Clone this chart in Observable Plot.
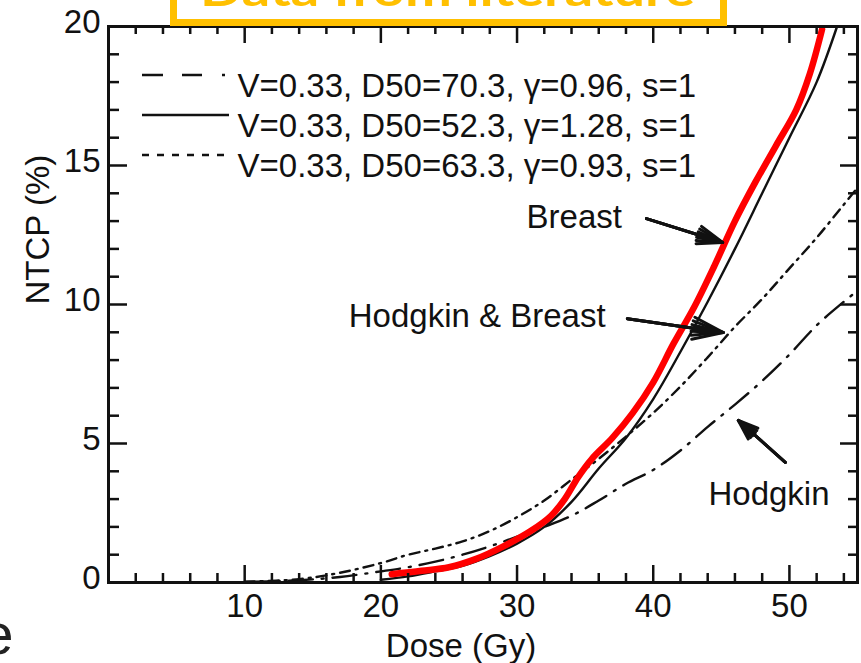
<!DOCTYPE html>
<html><head><meta charset="utf-8">
<script src="https://cdn.jsdelivr.net/npm/d3@7"></script>
<script src="https://cdn.jsdelivr.net/npm/@observablehq/plot@0.6"></script>
<style>
body{margin:0;background:#fff;}
#chart{position:relative;width:861px;height:663px;overflow:hidden;background:#fff;}
</style></head><body><div id="chart"></div>
<script>
// ---- axis ticks ----
const xTickLabels = [10, 20, 30, 40, 50];
const yTickLabels = [0, 5, 10, 15, 20];
const xMajorTicks = [10, 20, 30, 40, 50];
const xMinorTicks = [2, 4, 6, 8, 12, 14, 16, 18, 22, 24, 26, 28, 32, 34, 36, 38, 42, 44, 46, 48, 52, 54];
const yMajorTicks = [5, 10, 15];
const yMinorTicks = [1, 2, 3, 4, 6, 7, 8, 9, 11, 12, 13, 14, 16, 17, 18, 19];

// ---- curves ----
const fitDose  = [20.8, 23, 25, 27, 29, 31, 32.5, 33.5, 34.5, 35.5, 37, 38.5, 40, 41.5, 43, 44.5, 46, 47.5, 49, 50.5, 51.5, 52.4];
const fitNTCP  = [0.3, 0.42, 0.55, 0.85, 1.3, 1.85, 2.4, 3.0, 3.8, 4.45, 5.2, 6.1, 7.2, 8.6, 9.9, 11.4, 13.0, 14.4, 15.7, 17.0, 18.3, 19.9];

const breastDose = [20, 22, 24, 26, 28, 30, 32, 34, 36, 38, 40, 42, 44, 46, 48, 50, 52, 53.5];
const breastNTCP = [0.1, 0.22, 0.4, 0.6, 0.95, 1.4, 2.0, 2.9, 4.1, 5.2, 6.6, 8.3, 10.1, 12.0, 14.0, 16.0, 18.0, 20];

const hbDose = [10, 14, 17, 20, 22, 24, 26, 28, 30, 32, 34, 36, 38, 40, 42, 44, 46, 48, 50, 52, 54, 55];
const hbNTCP = [0.03, 0.12, 0.35, 0.7, 1.0, 1.22, 1.48, 1.85, 2.35, 2.95, 3.7, 4.45, 5.25, 6.1, 7.05, 8.1, 9.2, 10.2, 11.3, 12.4, 13.6, 14.2];

const hodgDose = [10, 14, 17, 20, 22, 24, 26, 28, 30, 32, 34, 36, 38, 40, 42, 44, 46, 48, 50, 52, 54, 55];
const hodgNTCP = [0.02, 0.08, 0.2, 0.4, 0.55, 0.75, 1.0, 1.3, 1.65, 2.0, 2.4, 2.95, 3.55, 4.05, 4.75, 5.6, 6.4, 7.25, 8.2, 9.25, 10.1, 10.5];

// ---- legend ----
const legendLabels = [
  "V=0.33, D50=70.3, \u03b3=0.96, s=1",
  "V=0.33, D50=52.3, \u03b3=1.28, s=1",
  "V=0.33, D50=63.3, \u03b3=0.93, s=1"
];
const legendDashes = ["21,19,20,20,3,20", null, "7,8"];

// ---- annotations ----
const annLabels = ["Breast", "Hodgkin & Breast", "Hodgkin"];
const annX = [37.7, 36.5, 48.5];
const annY = [13.12, 9.57, 3.17];
const annAnchor = ["end", "end", "middle"];
const arrowX1 = [39.5, 38.1, 49.7];
const arrowY1 = [13.09, 9.49, 4.32];
const arrowX2 = [45.1, 45.15, 46.25];
const arrowY2 = [12.23, 8.99, 5.83];

const titleText = "Data from literature";
const cornerText = "e";

const toRows = (xs, ys) => xs.map((d, i) => ({dose: d, ntcp: ys[i]}));
const annRows = annLabels.map((t, i) => ({t, x: annX[i], y: annY[i], a: annAnchor[i]}));
const arrowRows = arrowX1.map((d, i) => ({x1: d, y1: arrowY1[i], x2: arrowX2[i], y2: arrowY2[i]}));

const FONT = "'Liberation Sans', Arial, Helvetica, sans-serif";
const H = 663 - 26 - 81;   // frame height
const W = 861 - 108 - 4;   // frame width
const MAJ = 17, MIN = 9;

function legendSamples() {
  const g = d3.create("svg:g");
  legendDashes.forEach((dash, i) => {
    const l = g.append("line")
      .attr("x1", 142).attr("x2", 229)
      .attr("y1", 75 + i * 40).attr("y2", 75 + i * 40)
      .attr("stroke", "#111").attr("stroke-width", 2.6);
    if (dash) l.attr("stroke-dasharray", dash);
  });
  return g.node();
}

function titleBox() {
  const g = d3.create("svg:g");
  g.append("rect").attr("x", 173.5).attr("y", -60).attr("width", 550).attr("height", 82.5)
    .attr("fill", "#fff").attr("stroke", "#FFC000").attr("stroke-width", 7);
  g.append("text").attr("x", 200).attr("y", 5.5)
    .attr("text-anchor", "start")
    .attr("fill", "#FFC000").attr("font-family", "Lato, 'Open Sans', sans-serif")
    .attr("font-weight", "bold").attr("font-size", 44)
    .attr("textLength", 495).attr("lengthAdjust", "spacingAndGlyphs")
    .text(titleText);
  return g.node();
}

const lineStyle = {x: "dose", y: "ntcp", stroke: "#111", strokeWidth: 2.4, curve: "catmull-rom"};
const arrowStyle = {x1: "x1", y1: "y1", x2: "x2", y2: "y2", stroke: "#111", headLength: 20};
const textStyle = {x: "x", y: "y", text: "t", fontSize: 33};

const chart = Plot.plot({
  width: 861,
  height: 663,
  marginLeft: 108,
  marginRight: 4,
  marginTop: 26,
  marginBottom: 81,
  x: {domain: [0, 55]},
  y: {domain: [0, 20]},
  style: {fontFamily: FONT, fontSize: "33px", background: "#fff", color: "#111", overflow: "hidden"},
  marks: [
    Plot.line(toRows(hodgDose, hodgNTCP), {...lineStyle, strokeDasharray: "24,9,2,9"}),
    Plot.line(toRows(hbDose, hbNTCP), {...lineStyle, strokeDasharray: "10,6,2,6"}),
    Plot.line(toRows(breastDose, breastNTCP), {...lineStyle}),
    Plot.line(toRows(fitDose, fitNTCP), {x: "dose", y: "ntcp", stroke: "#ff0000", strokeWidth: 6.5, curve: "catmull-rom"}),
    // inward ticks
    Plot.tickX(xMajorTicks, {x: d => d, insetTop: H - MAJ, stroke: "#111", strokeWidth: 2.5}),
    Plot.tickX(xMinorTicks, {x: d => d, insetTop: H - MIN, stroke: "#111", strokeWidth: 2.5}),
    Plot.tickX(xMajorTicks, {x: d => d, insetBottom: H - MAJ, stroke: "#111", strokeWidth: 2.5}),
    Plot.tickX(xMinorTicks, {x: d => d, insetBottom: H - MIN + 1, stroke: "#111", strokeWidth: 2.5}),
    Plot.tickY(yMajorTicks, {y: d => d, insetRight: W - MAJ - 2, stroke: "#111", strokeWidth: 2.5}),
    Plot.tickY(yMinorTicks, {y: d => d, insetRight: W - MIN - 2, stroke: "#111", strokeWidth: 2.5}),
    Plot.tickY(yMajorTicks, {y: d => d, insetLeft: W - MAJ, stroke: "#111", strokeWidth: 2.5}),
    Plot.tickY(yMinorTicks, {y: d => d, insetLeft: W - MIN, stroke: "#111", strokeWidth: 2.5}),
    Plot.frame({stroke: "#111", strokeWidth: 3}),
    Plot.axisX({ticks: xTickLabels, tickSize: 0, tickPadding: 11, fontSize: 33, label: null}),
    Plot.axisY({ticks: yTickLabels, tickSize: 0, tickPadding: 8, dy: -4, fontSize: 33, label: null}),
    Plot.text(["NTCP (%)"], {frameAnchor: "left", dx: -70, rotate: -90, fontSize: 33}),
    Plot.text(["Dose (Gy)"], {frameAnchor: "bottom", dx: -22, dy: 51, lineAnchor: "top", fontSize: 33}),
    // legend
    legendSamples,
    ...legendLabels.map((t, i) => Plot.text([t], {frameAnchor: "top-left", dx: 129, dy: 47 + i * 40, textAnchor: "start", fontSize: 33})),
    // annotations: arrows (layered heads give a filled look)
    Plot.arrow(arrowRows, {...arrowStyle, strokeWidth: 3, headAngle: 40}),
    Plot.arrow(arrowRows, {...arrowStyle, strokeWidth: 3, headAngle: 26}),
    Plot.arrow(arrowRows, {...arrowStyle, strokeWidth: 3, headAngle: 12}),
    Plot.text(annRows.filter(d => d.a === "end"), {...textStyle, textAnchor: "end"}),
    Plot.text(annRows.filter(d => d.a === "middle"), {...textStyle, textAnchor: "middle"}),
    Plot.text([cornerText], {frameAnchor: "bottom-left", dx: -95, dy: 30, lineAnchor: "top", textAnchor: "end", fontSize: 58, fill: "#222"}),
    titleBox
  ]
});

document.getElementById("chart").appendChild(chart);
</script>
</body></html>
